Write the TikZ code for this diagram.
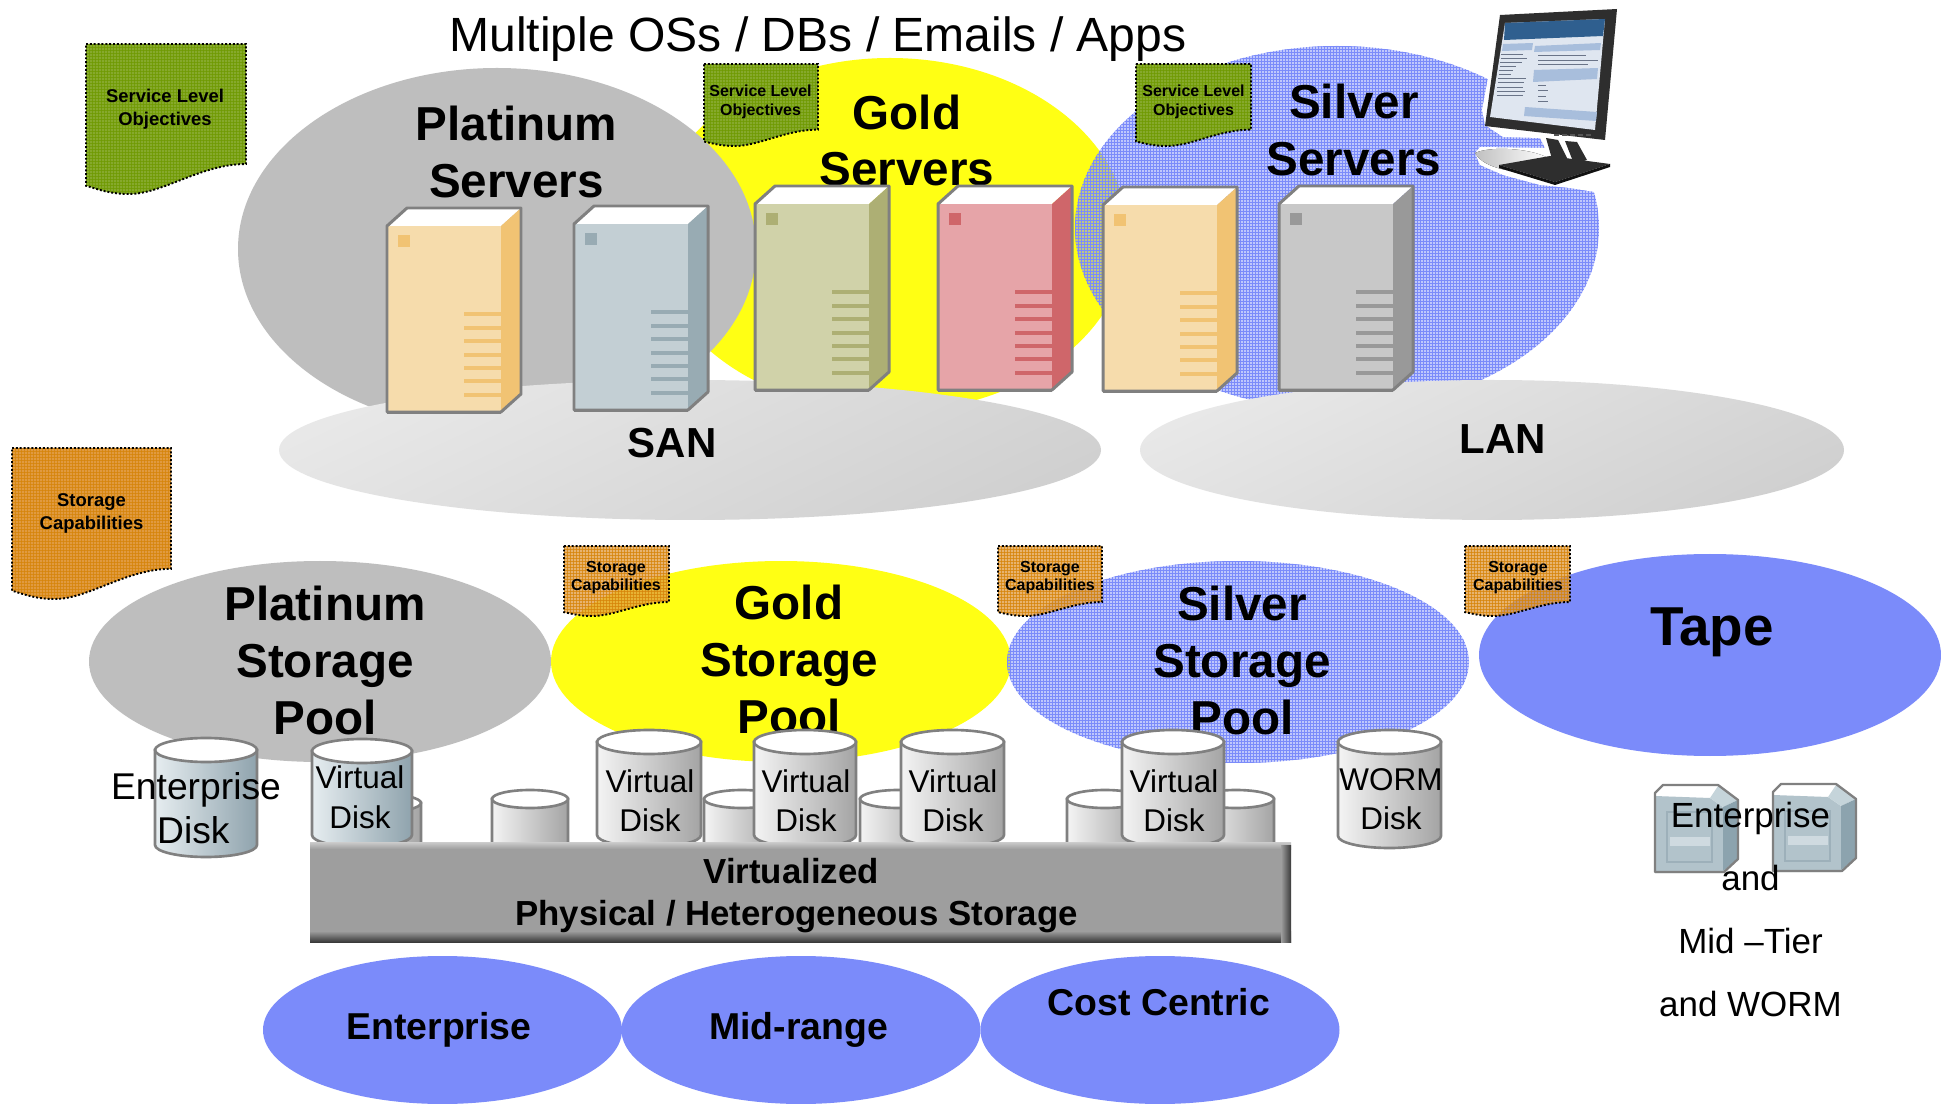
\documentclass[tikz,border=0pt]{standalone}
\usepackage{fontspec}
\setmainfont{Liberation Sans}
\definecolor{platG}{HTML}{BEBEBE}
\definecolor{goldY}{HTML}{FFFF14}
\definecolor{silvB}{HTML}{7B8BFA}
\definecolor{tapeB}{HTML}{7B8BFA}
\definecolor{edgeG}{HTML}{808080}
\definecolor{noteGa}{HTML}{86A92C}
\definecolor{noteGb}{HTML}{6F9A00}
\definecolor{noteOa}{HTML}{E09A40}
\definecolor{noteOb}{HTML}{D68408}
\definecolor{peachF}{HTML}{F6DCAC}
\definecolor{peachS}{HTML}{F1C373}
\definecolor{blueF}{HTML}{C3CFD4}
\definecolor{blueS}{HTML}{98ABB3}
\definecolor{oliveF}{HTML}{D0D2A9}
\definecolor{oliveS}{HTML}{ADAF74}
\definecolor{pinkF}{HTML}{E6A4A8}
\definecolor{pinkS}{HTML}{CF666A}
\definecolor{greyF}{HTML}{C8C8C8}
\definecolor{greyS}{HTML}{999999}
\definecolor{netA}{HTML}{E8E8E8}
\definecolor{netB}{HTML}{D0D0D0}
\definecolor{shadowG}{HTML}{C0C0C0}
\definecolor{monD}{HTML}{2E2E2E}
\definecolor{monE}{HTML}{111111}
\definecolor{monF}{HTML}{DFE6F0}
\definecolor{monG}{HTML}{2F5F8F}
\definecolor{monH}{HTML}{A8BEDC}
\definecolor{monI}{HTML}{6A7488}
\definecolor{monJ}{HTML}{555555}
\definecolor{dbA}{HTML}{E6EDF0}
\definecolor{dbB}{HTML}{B4C4CC}
\definecolor{dbC}{HTML}{8FA3AD}
\definecolor{dgA}{HTML}{F4F4F4}
\definecolor{dgB}{HTML}{C0C0C0}
\definecolor{dgC}{HTML}{A4A4A4}
\definecolor{barM}{HTML}{9E9E9E}
\definecolor{barL}{HTML}{CCCCCC}
\definecolor{barD}{HTML}{3A3A3A}
\definecolor{tpA}{HTML}{B2C3CB}
\definecolor{tpB}{HTML}{C5D4DA}
\definecolor{tpC}{HTML}{8CA3AE}
\definecolor{tpD}{HTML}{9DB0BA}
\definecolor{tpE}{HTML}{CFDAE0}
\tikzset{
  lbl/.style={inner sep=0pt,outer sep=0pt,anchor=base,align=center,text=black},
  hugeb/.style={lbl,font=\fontsize{27.1}{32.4}\selectfont\bfseries},
  netb/.style={lbl,font=\fontsize{23.9}{28}\selectfont\bfseries},
  tapeb/.style={lbl,font=\fontsize{31.2}{36}\selectfont\bfseries},
  barb/.style={lbl,font=\fontsize{19.8}{23.6}\selectfont\bfseries},
  botb/.style={lbl,font=\fontsize{21.3}{25}\selectfont\bfseries},
  vdisk/.style={lbl,font=\fontsize{17.9}{22.2}\selectfont},
  edisk/.style={lbl,font=\fontsize{21.2}{25}\selectfont},
  sidet/.style={lbl,font=\fontsize{19.9}{35.7}\selectfont},
  noteb/.style={lbl,font=\fontsize{10.5}{13.1}\selectfont\bfseries},
  notes/.style={lbl,font=\fontsize{9.1}{10.8}\selectfont\bfseries},
  shell/.style={line width=1.7pt,draw=edgeG,line join=round},
}
% ellipse given in picture units
\newcommand\myell[5]{\fill[#5] (#1,#2) ellipse ({#3*0.02cm} and {#4*0.02cm});}
% fine texture of grid lines
\newcommand\gridlines[6]{%
  \pgfmathtruncatemacro\nxa{#1+3}\pgfmathtruncatemacro\nya{#2+3}%
  \foreach \gx in {#1,\nxa,...,#3}{\draw[#5,line width=#6] (\gx+.5,#2) -- (\gx+.5,#4);}%
  \foreach \gy in {#2,\nya,...,#4}{\draw[#5,line width=#6] (#1,\gy+.5) -- (#3,\gy+.5);}%
}
\newcommand\texell[4]{%
  \fill[silvB,fill opacity=.48] (#1,#2) ellipse ({#3*0.02cm} and {#4*0.02cm});
  \begin{scope}
    \clip (#1,#2) ellipse ({#3*0.02cm} and {#4*0.02cm});
    \pgfmathtruncatemacro\exa{#1-#3}\pgfmathtruncatemacro\exb{#1+#3}%
    \pgfmathtruncatemacro\eya{#2-#4}\pgfmathtruncatemacro\eyb{#2+#4}%
    \gridlines{\exa}{\eya}{\exb}{\eyb}{silvB}{0.32pt}
  \end{scope}}
% note: x y w h base grid opacity
\newcommand\notepath[4]{(#1,#2) -- (#1+#3,#2) -- (#1+#3,#2+.8*#4)
   .. controls (#1+.72*#3,#2+.8*#4) and (#1+.48*#3,#2+#4) .. (#1+.27*#3,#2+#4)
   .. controls (#1+.15*#3,#2+#4) and (#1+.08*#3,#2+.97*#4) .. (#1,#2+.945*#4) -- cycle}
\newcommand\notebox[7]{%
  \fill[#5,fill opacity=#7] \notepath{#1}{#2}{#3}{#4};
  \begin{scope}
    \clip \notepath{#1}{#2}{#3}{#4};
    \pgfmathtruncatemacro\nxe{#1+#3}\pgfmathtruncatemacro\nye{#2+#4}%
    \gridlines{#1}{#2}{\nxe}{\nye}{#6,opacity=.75}{0.6pt}
  \end{scope}
  \draw[black,line width=1.1pt,dash pattern=on 1.1pt off 1.1pt] \notepath{#1}{#2}{#3}{#4};
}
% server tower: x y (front top-left) front side
\newcommand\towerbox[4]{%
  \begin{scope}[shift={(#1,#2)}]
    \fill[white] (0,0) -- (20,-18) -- (134,-18) -- (114,0) -- cycle;
    \fill[#3] (0,0) rectangle (114,186);
    \fill[#4] (114,0) -- (134,-18) -- (134,168) -- (114,186) -- cycle;
    \fill[#4] (11,9) rectangle (23,21);
    \foreach \sy in {88,102,115,129,142,155,169}{\fill[#4] (77,\sy-2.2) rectangle (114,\sy+2.2);}
    \draw[shell] (0,0) -- (20,-18) -- (134,-18) -- (134,168) -- (114,186) -- (0,186) -- cycle;
    \draw[edgeG,line width=1.2pt] (0,186.5) -- (114,186.5);
  \end{scope}}
% disk: xl xr top ry bot left mid right
\newcommand\diskcyl[8]{%
  \pgfmathsetmacro\rxx{(#2-#1)/2*0.02}\pgfmathsetmacro\ryy{#4*0.02}\pgfmathsetmacro\mxx{(#1+#2)/2}%
  \path[left color=#6,middle color=#7,right color=#8,draw=edgeG,line width=1.5pt]
    (#1,#3+#4) -- (#1,#5-#4) arc[start angle=180,end angle=360,x radius=\rxx cm,y radius=\ryy cm]
    -- (#2,#3+#4) -- cycle;
  \filldraw[fill=white,draw=edgeG,line width=1.5pt] (\mxx,#3+#4) ellipse (\rxx cm and \ryy cm);
}
% tape unit
\newcommand\tapeunit[2]{%
  \begin{scope}[shift={(#1,#2)}]
    \fill[white] (0,8) -- (8,0) -- (63,0) -- (55,13) -- (0,13) -- cycle;
    \fill[tpA] (0,11) -- (55,13) -- (68,22) -- (68,88) -- (0,88) -- cycle;
    \fill[tpB] (55,13) -- (63,1) -- (83,15) -- (68,22) -- cycle;
    \fill[tpC] (68,22) -- (83,15) -- (83,74) -- (68,86) -- cycle;
    \draw[tpD,line width=.7pt] (12,27) rectangle (57,77);
    \fill[tpE] (15,52) rectangle (55,61);
    \draw[edgeG,line width=1.3pt,line join=round] (0,8) -- (8,0) -- (63,0) -- (83,15) -- (83,74) -- (69,87) -- (0,87) -- cycle;
  \end{scope}}
\begin{document}
\begin{tikzpicture}[x=0.02cm,y=-0.02cm]
\useasboundingbox (0,0) rectangle (1941,1104);
\fill[white] (0,0) rectangle (1941,1104);

% --- server tier clouds
\myell{890}{235}{238}{177}{goldY}
\myell{497}{249}{259}{181}{platG}
\texell{1337}{228}{262}{182}

% monitor halo
\fill[white] (1488,78) -- (1482,110) -- (1485,125) -- (1503,137) -- (1540,138) -- (1545,148)
  -- (1480,147) -- (1475,153) -- (1480,165) -- (1503,175) -- (1540,185) -- (1570,188) -- (1595,192)
  -- (1625,192) -- (1625,0) -- (1490,0) -- cycle;

% network clouds
\path[top color=netA,bottom color=netB,shading angle=25] (690,450) ellipse ({411*0.02cm} and {70*0.02cm});
\path[top color=netA,bottom color=netB,shading angle=25] (1492,450) ellipse ({352*0.02cm} and {70*0.02cm});

% labels of the upper tier
\node[lbl,font=\fontsize{27.35}{32}\selectfont] (title) at (818,52) {Multiple OSs / DBs / Emails / Apps};
\node[hugeb] (platsrv) at (516.5,197.5) {Platinum\\Servers};
\node[hugeb] (goldsrv) at (907,186) {Gold\\Servers};
\node[hugeb] (silvsrv) at (1354,175.5) {Silver\\Servers};
\node[netb] (san) at (672,458) {SAN};
\node[netb] (lan) at (1503,454) {LAN};

% towers
\towerbox{387}{226}{peachF}{peachS}
\towerbox{574}{224}{blueF}{blueS}
\towerbox{755}{204}{oliveF}{oliveS}
\towerbox{938}{204}{pinkF}{pinkS}
\towerbox{1103}{205}{peachF}{peachS}
\towerbox{1279}{204}{greyF}{greyS}

% monitor
\fill[left color=shadowG,right color=white] (1475,153) .. controls (1490,146) and (1530,148) .. (1548,158) -- (1520,172) .. controls (1500,170) and (1482,165) .. (1475,153) -- cycle;
\fill[monD] (1546,138) -- (1558,140) -- (1570,164) -- (1554,166) -- cycle;
\fill[monD] (1565,141) -- (1577,142) -- (1587,160) -- (1574,164) -- cycle;
\fill[monD] (1499,165) -- (1550,156) -- (1610,164) -- (1555,182) -- cycle;
\fill[monE] (1499,165) -- (1555,182) -- (1610,164) -- (1610,167) -- (1555,185) -- (1499,168) -- cycle;
\fill[monD] (1500,15) -- (1617,9) -- (1605,140) -- (1485,126) -- cycle;
\fill[monF] (1505,23) -- (1605,19) -- (1595,130) -- (1490,117) -- cycle;
\fill[monG] (1505,23) -- (1605,19) -- (1603,36) -- (1504,40) -- cycle;
\fill[monH] (1503,44) -- (1533,43) -- (1532,50) -- (1502,51) -- cycle;
\fill[monH] (1535,46) -- (1601,43) -- (1600,50) -- (1534,52) -- cycle;
\fill[monH] (1534,70) -- (1598,68) -- (1597,79) -- (1533,82) -- cycle;
\fill[monH] (1525,107) -- (1597,112) -- (1596,121) -- (1524,116) -- cycle;
\foreach \ry/\rl in {54/22,58/26,62/22,66/16,70/14,74/12,78/28,82/26,87/26,91/28,95/26}{
  \draw[monI,line width=.45pt] (1507-\ry*.11,\ry) -- ++(\rl,0);}
\foreach \ry/\rl in {55/48,60/60,64/50,85/8,90/10,96/8,101/10}{
  \draw[monI,line width=.45pt] (1538,\ry) -- ++(\rl,0);}
\foreach \bx in {1554,1562,1570,1578,1586}{\fill[monJ] (\bx,134.5) rectangle ++(5,2);}

% --- storage pools
\myell{320}{661.5}{231}{100.5}{platG}
\myell{781}{661.5}{230}{100.5}{goldY}
\texell{1238}{662}{231}{101}
\myell{1710}{655}{231}{101}{tapeB}
\node[hugeb] (platpool) at (325,734) {Platinum\\Storage\\Pool};
\node[hugeb] (goldpool) at (789,733) {Gold\\Storage\\Pool};
\node[hugeb] (silvpool) at (1242,734) {Silver\\Storage\\Pool};
\node[tapeb] (tape) at (1712,645) {Tape};

% service level notes
\notebox{86}{44}{160}{150}{noteGa}{noteGb}{1}
\notebox{704}{64}{114}{82}{noteGa}{noteGb}{1}
\notebox{1136}{64}{115}{82}{noteGa}{noteGb}{1}
\node[noteb] (slo1) at (165,126) {Service Level\\Objectives};
\node[notes] (slo2) at (760.5,115.5) {Service Level\\Objectives};
\node[notes] (slo3) at (1193.5,115.5) {Service Level\\Objectives};

% storage notes
\notebox{12}{448}{159}{151}{noteOa}{noteOb}{1}
\notebox{564}{546}{105}{70}{noteOa}{noteOb}{.75}
\notebox{998}{546}{104}{70}{noteOa}{noteOb}{.75}
\notebox{1465}{546}{105}{70}{noteOa}{noteOb}{.75}
\node[noteb] (sc1) at (91.5,530) {Storage\\Capabilities};
\node[notes] (sc2) at (616,591) {Storage\\Capabilities};
\node[notes] (sc3) at (1050,591) {Storage\\Capabilities};
\node[notes] (sc4) at (1518,591) {Storage\\Capabilities};

% disks
\diskcyl{155}{257}{738}{12}{857}{dbA}{dbB}{dbC}
\diskcyl{341}{421}{794}{9}{870}{dgA}{dgB}{dgC}
\diskcyl{312}{412}{739}{12}{847}{dbA}{dbB}{dbC}
\diskcyl{492}{568}{790}{9}{870}{dgA}{dgB}{dgC}
\diskcyl{704}{780}{790}{9}{870}{dgA}{dgB}{dgC}
\diskcyl{860}{936}{790}{9}{870}{dgA}{dgB}{dgC}
\diskcyl{1067}{1143}{790}{9}{870}{dgA}{dgB}{dgC}
\diskcyl{1198}{1274}{790}{9}{870}{dgA}{dgB}{dgC}
\diskcyl{597}{701}{730}{12}{847}{dgA}{dgB}{dgC}
\diskcyl{754}{856}{730}{12}{847}{dgA}{dgB}{dgC}
\diskcyl{901}{1004}{730}{12}{847}{dgA}{dgB}{dgC}
\diskcyl{1122}{1224}{730}{12}{847}{dgA}{dgB}{dgC}
\diskcyl{1338}{1441}{730}{12}{848}{dgA}{dgB}{dgC}

% virtualization bar
\fill[barM] (310,842) rectangle (1291,942);
\fill[top color=barL,bottom color=barM] (310,842) rectangle (1291,849);
\fill[top color=barM,bottom color=barD] (310,931) rectangle (1291,942);
\fill[left color=barM,right color=barD] (1281,845) rectangle (1291,942);

\node[edisk] (edisk) at (196,843) {Enterprise\\Disk\hspace*{3pt}};
\node[vdisk] (vd1) at (360,828) {Virtual\\Disk};
\node[vdisk] (vd2) at (650,831.5) {Virtual\\Disk};
\node[vdisk] (vd3) at (806,831.5) {Virtual\\Disk};
\node[vdisk] (vd4) at (953,831.5) {Virtual\\Disk};
\node[vdisk] (vd5) at (1174,831.5) {Virtual\\Disk};
\node[vdisk] (worm) at (1391,829.5) {WORM\\Disk};
\node[barb] (bar) at (796.5,925) {Virtualized\hspace*{6pt}\\Physical / Heterogeneous Storage};

% vendor clouds
\myell{442.5}{1030}{179.5}{74}{tapeB}
\myell{801}{1030}{179.5}{74}{tapeB}
\myell{1160}{1030}{179.5}{74}{tapeB}
\node[botb] (ent) at (439,1039.5) {Enterprise};
\node[botb] (mid) at (798.5,1039.5) {Mid-range};
\node[botb] (cost) at (1159,1015.5) {Cost Centric};

% tape units
\tapeunit{1655}{785}
\tapeunit{1773}{784}
\node[sidet] (side) at (1750.5,1016) {Enterprise\\and\\Mid --Tier\\and WORM};
\end{tikzpicture}
\end{document}
